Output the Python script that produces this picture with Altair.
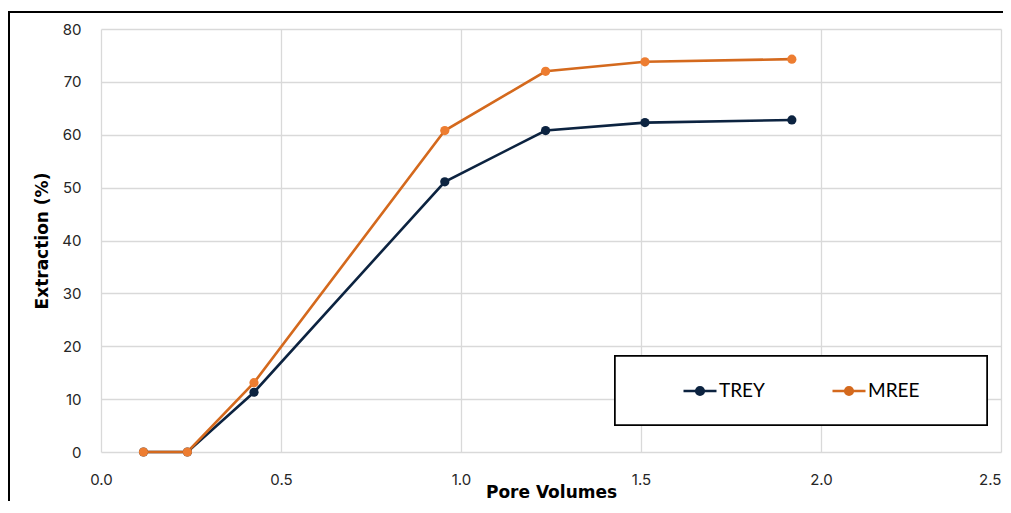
import altair as alt
import pandas as pd

pore_volumes = [0.118, 0.240, 0.425, 0.955, 1.235, 1.511, 1.919]
trey = [0, 0, 11.3, 51.1, 60.8, 62.3, 62.8]
mree = [0, 0, 13.1, 60.8, 72.0, 73.8, 74.3]
series = ["TREY", "MREE"]
line_colors = ["#0c2340", "#d4691d"]
point_colors = ["#0c2340", "#ed7d31"]

rows = []
for name, vals in zip(series, [trey, mree]):
    for x, y in zip(pore_volumes, vals):
        rows.append({"pv": x, "ext": y, "series": name})
df = pd.DataFrame(rows)

FONT = "Inter"
TFONT = "DejaVu Sans"

xenc = alt.X("pv:Q", title="Pore Volumes",
             scale=alt.Scale(domain=[0, 2.5], nice=False),
             axis=alt.Axis(values=[0, 0.5, 1.0, 1.5, 2.0, 2.5], format=".1f", labelFlush=False,
                           labelAlign={"condition": {"test": "datum.value >= 2.5", "value": "right"},
                                       "value": "center"}))
yenc = alt.Y("ext:Q", title="Extraction (%)",
             scale=alt.Scale(domain=[0, 80], nice=False),
             axis=alt.Axis(values=list(range(0, 81, 10)), labelFlush=False))


def circ(r):
    return f"M{r},0A{r},{r} 0 1,1 -{r},0A{r},{r} 0 1,1 {r},0"


sym = "M-1,0L1,0" + circ(0.07) + circ(0.15) + circ(0.23)
leg = alt.Legend(title=None, orient="none", direction="horizontal",
                 legendX=581, legendY=344,
                 symbolType=sym, symbolSize=1089,
                 symbolStrokeWidth=2.6, symbolOpacity=1,
                 labelFont="Lato", labelFontSize=19,
                 labelColor="#000000", labelOffset=1,
                 columnPadding=62, padding=0)

lines = alt.Chart(df).mark_line(strokeWidth=2.6).encode(
    x=xenc, y=yenc,
    color=alt.Color("series:N", scale=alt.Scale(domain=series, range=line_colors), legend=leg),
    detail="series:N",
)

points = alt.Chart(df).mark_circle(size=85, opacity=1).encode(
    x=xenc, y=yenc,
    color=alt.Color("series:N", scale=alt.Scale(domain=series, range=point_colors), legend=None),
)

legend_box = alt.Chart(df).mark_rect(fill="white", stroke="#000000", strokeWidth=1.5).encode(
    x=alt.value(514), x2=alt.value(886), y=alt.value(327), y2=alt.value(396)
)

outer = alt.Chart(df).mark_rect(fill=None, stroke="#000000", strokeWidth=2, filled=False).encode(
    x=alt.value(-92), x2=alt.value(1200), y=alt.value(-17), y2=alt.value(800)
)

chart = alt.layer(outer, legend_box, lines, points).resolve_scale(color="independent").properties(
    width=900, height=423,
    autosize=alt.AutoSizeParams(type="none"),
    padding={"left": 93, "top": 21, "right": 2, "bottom": 49},
).configure_view(stroke=None).configure_axis(
    grid=True, gridColor="#d9d9d9", gridWidth=1.3,
    domain=False, ticks=False,
    labelFont=FONT, labelFontSize=15, labelColor="#262626",
    titleFont=TFONT, titleFontSize=17, titleFontWeight="bold", titleColor="#000000",
).configure_axisX(labelPadding=20, titleY=45, titleBaseline="alphabetic").configure_axisY(labelPadding=20, titlePadding=10)

chart.save("out.html", embed_options={"renderer": "svg", "actions": False})
